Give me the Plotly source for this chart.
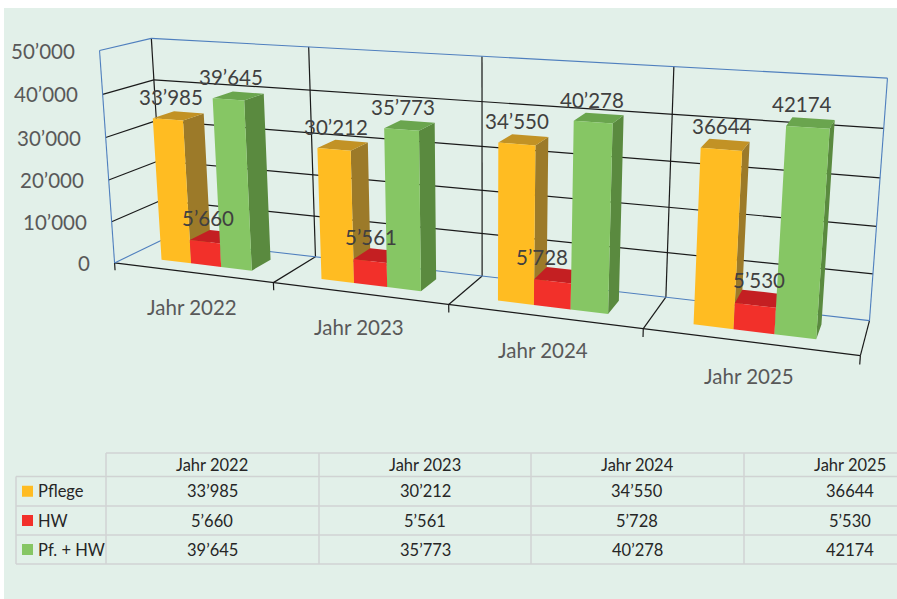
import numpy as np
import plotly.graph_objects as go

categories = ["Jahr 2022", "Jahr 2023", "Jahr 2024", "Jahr 2025"]
pflege = [33985, 30212, 34550, 36644]
hw = [5660, 5561, 5728, 5530]
pf_hw = [39645, 35773, 40278, 42174]
pflege_lbl = ["33’985", "30’212", "34’550", "36644"]
hw_lbl = ["5’660", "5’561", "5’728", "5’530"]
pf_hw_lbl = ["39’645", "35’773", "40’278", "42174"]
z_ticks = [0, 10000, 20000, 30000, 40000, 50000]
z_ticklabels = ["0", "10’000", "20’000", "30’000", "40’000", "50’000"]
series_names = ["Pflege", "HW", "Pf. + HW"]
ZMAX = z_ticks[-1]

W, Ht = 897, 599

# Perspective of the 3-D box: category / depth / value -> screen, solved from the box's landmarks
LANDMARKS = [((0,0,0),(116,263)),((4,0,0),(860,356)),((0,1,0),(160,239)),((4,1,0),(869,321)),
     ((0,1,5e4),(153,40)),((4,1,5e4),(888,76)),((0,0,5e4),(98,50)),
     ((1,0,0),(273,282)),((2,0,0),(449,306)),((3,0,0),(643,329)),
     ((1,1,0),(317,256)),((2,1,0),(483,276)),((3,1,0),(666,297)),
     ((1,1,5e4),(309,47)),((2,1,5e4),(482,57)),((3,1,5e4),(673,67)),
     ((0,0,1e4),(113,221)),((0,0,4e4),(102,94))]
rows = []
for (a, b, c), (u, v) in LANDMARKS:
    c = c / ZMAX
    rows.append([a, b, c, 1, 0, 0, 0, 0, -u*a, -u*b, -u*c, -u])
    rows.append([0, 0, 0, 0, a, b, c, 1, -v*a, -v*b, -v*c, -v])
PM = np.linalg.svd(np.array(rows, float))[2][-1].reshape(3, 4)

def project(x, y, z):
    h = PM @ np.array([x, y, z / ZMAX, 1.0])
    return float(h[0] / h[2]), float(h[1] / h[2])

cols = {"Pflege": ("#FFBC22", "#9C7A29", "#C29225"),
        "HW": ("#F2302A", "#B52025", "#C41F22"),
        "Pf. + HW": ("#86C664", "#5A8A3F", "#6AA54E")}
D0, D1 = 0.29, 0.72
BX0, BW = 0.213, 0.192

def polys(faces):
    xs, ys = [], []
    for f in faces:
        pts = [project(*q) for q in f]
        pts.append(pts[0])
        xs += [p[0] for p in pts] + [None]
        ys += [p[1] for p in pts] + [None]
    return xs, ys

fig = go.Figure()

def lines(pairs, color, width):
    xs, ys = [], []
    for a, b in pairs:
        p, q = project(*a), project(*b)
        xs += [p[0], q[0], None]; ys += [p[1], q[1], None]
    fig.add_trace(go.Scatter(x=xs, y=ys, mode="lines", line=dict(color=color, width=width), hoverinfo="skip", showlegend=False))

n = len(categories)
black = []
for zv in z_ticks[1:-1]:
    black += [((0,0,zv),(0,1,zv)), ((0,1,zv),(n,1,zv))]
for i in range(1, n):
    black += [((i,1,0),(i,1,ZMAX)), ((i,0,0),(i,1,0))]
black += [((0,1,0),(0,1,ZMAX)), ((0,0,0),(n,0,0)), ((n,0,0),(n,1,0))]
for i in range(n+1):
    black.append(((i,0,0),(i,0,-1800)))
blue = [((0,0,0),(0,0,ZMAX)), ((0,0,ZMAX),(0,1,ZMAX)), ((0,1,ZMAX),(n,1,ZMAX)),
        ((n,1,ZMAX),(n,1,0)), ((n,1,0),(0,1,0)), ((0,0,0),(0,1,0))]
lines(black, "#1A1A1A", 1.2)
lines(blue, "#4F7FBE", 1.1)

for k, (nm, vals) in enumerate(zip(series_names, (pflege, hw, pf_hw))):
    front_c, side_c, top_c = cols[nm]
    F, S, T = [], [], []
    for i, v in enumerate(vals):
        x0 = i + BX0 + k*BW; x1 = x0 + BW
        F.append([(x0,D0,0),(x1,D0,0),(x1,D0,v),(x0,D0,v)])
        S.append([(x1,D0,0),(x1,D1,0),(x1,D1,v),(x1,D0,v)])
        T.append([(x0,D0,v),(x1,D0,v),(x1,D1,v),(x0,D1,v)])
    for faces, col in ((S, side_c), (T, top_c), (F, front_c)):
        xs, ys = polys(faces)
        fig.add_trace(go.Scatter(x=xs, y=ys, mode="lines", fill="toself", fillcolor=col, line=dict(width=0, color=col),
                                 name=nm, hoverinfo="name", showlegend=False))

anns = []
LBLC = "#404040"; AXC = "#595959"
for zv, t in zip(z_ticks, z_ticklabels):
    px, py = project(0, 0, zv)
    anns.append(dict(x=px, y=py, text=t, showarrow=False, xanchor="right", xshift=-23, font=dict(family="Lato", size=20.5, color=AXC)))
for i, t in enumerate(categories):
    px, py = project(i+.5, 0, 0)
    anns.append(dict(x=px, y=py, text=t, showarrow=False, yshift=-34, font=dict(family="Lato", size=20.5, color=AXC)))
NUDGE = {(1, 2): -10, (1, 3): 7, (0, 3): 4, (2, 3): -2}
for k, (vals, lbls) in enumerate(((pflege, pflege_lbl), (hw, hw_lbl), (pf_hw, pf_hw_lbl))):
    for i, (v, t) in enumerate(zip(vals, lbls)):
        px, py = project(i+BX0+(k+.5)*BW, (D0+D1)/2, v)
        anns.append(dict(x=px, y=py, text=t, showarrow=False, yshift=18.5, xshift=-7+NUDGE.get((k, i), 0),
                         font=dict(family="Lato", size=20.5, color=LBLC)))

shapes = [dict(type="rect", xref="x", yref="y", layer="below", x0=4, x1=W, y0=8, y1=Ht, fillcolor="#E2F0E9", line_width=0)]
def L(x0, y0, x1, y1):
    return dict(type="line", xref="x", yref="y", x0=x0, x1=x1, y0=y0, y1=y1, line=dict(color="#D0D3D3", width=1.5))
ROW = [453, 476.5, 506, 535, 564]
COL = [106, 319, 531, 744]
shapes.append(L(106, ROW[0], W, ROW[0]))
for r in ROW[1:]:
    shapes.append(L(16, r, W, r))
shapes.append(L(16, ROW[1], 16, ROW[4]))
for c_ in COL:
    shapes.append(L(c_, ROW[0], c_, ROW[4]))
def A(x, y, t, anchor="center"):
    return dict(x=x, y=y, text=t, showarrow=False, xanchor=anchor, yanchor="middle", font=dict(family="Lato", size=16.5, color="#262626"))
CC = [212, 425, 637, 850]
for cx, t in zip(CC, categories):
    anns.append(A(cx, 465, t))
for r, (nm, lbls) in enumerate(zip(series_names, (pflege_lbl, hw_lbl, pf_hw_lbl))):
    ym = (ROW[r+1] + ROW[r+2]) / 2
    anns.append(A(36, ym, nm, "left"))
    shapes.append(dict(type="rect", xref="x", yref="y", x0=22, x1=33, y0=ym-5.5, y1=ym+5.5, fillcolor=cols[nm][0], line_width=0))
    for cx, t in zip(CC, lbls):
        anns.append(A(cx, ym, t))

fig.update_layout(width=W, height=Ht, margin=dict(l=0, r=0, t=0, b=0), paper_bgcolor="white", plot_bgcolor="rgba(0,0,0,0)",
                  showlegend=False, shapes=shapes, annotations=anns, font=dict(family="Lato"),
                  xaxis=dict(range=[0, W], visible=False, fixedrange=True),
                  yaxis=dict(range=[Ht, 0], visible=False, fixedrange=True))
fig.write_html("out.html", config=dict(displayModeBar=False), post_script="document.body.style.margin='0';document.body.style.overflow='hidden';")
